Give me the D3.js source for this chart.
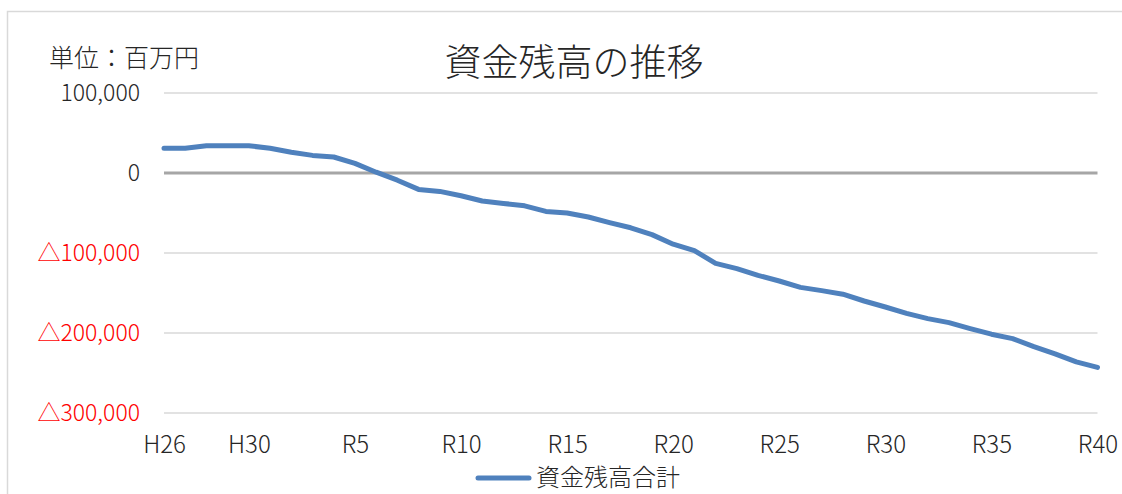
<!DOCTYPE html>
<html lang="ja">
<head>
<meta charset="utf-8">
<script src="https://cdn.jsdelivr.net/npm/d3@7"></script>
<style>
  html, body { margin: 0; padding: 0; background: #fff; }
  svg { display: block; }
  text { font-family: "Noto Sans CJK JP", "Noto Sans", sans-serif; font-weight: 300; }
</style>
</head>
<body>
<svg id="chart" width="1122" height="494"></svg>
<script>
// Fiscal years: Heisei 26–30, then Reiwa 1–40
const years = ["H26", "H27", "H28", "H29", "H30"]
  .concat(d3.range(1, 41).map(n => "R" + n));

// 資金残高合計 (百万円)
const balance = [
  31000, 31000, 34000, 34000, 34000, 31000, 26000, 22000, 20000, 12000,
  1000, -9000, -20500, -23000, -28500, -35000, -38000, -41000, -48000, -50000,
  -55000, -62000, -68500, -77000, -89000, -97000, -113000, -119500, -128000, -135000,
  -143000, -147000, -151500, -160000, -167500, -175500, -182000, -187000, -194500, -201500,
  -207000, -217000, -226000, -236000, -243000
];

const yTicks = [100000, 0, -100000, -200000, -300000];
const xTickLabels = ["H26", "H30", "R5", "R10", "R15", "R20", "R25", "R30", "R35", "R40"];

const titleText = "資金残高の推移";
const unitText = "単位：百万円";
const seriesName = "資金残高合計";

const svg = d3.select("#chart");

const x = d3.scalePoint().domain(years).range([164, 1097.5]);
const y = d3.scaleLinear().domain([-300000, 100000]).range([413, 93]);

const fmt = d3.format(",");
const yLabel = v => v < 0 ? "△" + fmt(-v) : fmt(v);

// Chart area border
svg.append("rect")
  .attr("x", 7.5).attr("y", 11.5)
  .attr("width", 1140).attr("height", 500)
  .attr("fill", "none").attr("stroke", "#d9d9d9").attr("stroke-width", 1.5);

// Horizontal gridlines
svg.append("g").selectAll("line")
  .data(yTicks.filter(v => v !== 0))
  .join("line")
  .attr("x1", x.range()[0]).attr("x2", x.range()[1])
  .attr("y1", d => y(d)).attr("y2", d => y(d))
  .attr("stroke", "#d9d9d9").attr("stroke-width", 1.5);

// Zero baseline
svg.append("line")
  .attr("x1", x.range()[0]).attr("x2", x.range()[1])
  .attr("y1", y(0)).attr("y2", y(0))
  .attr("stroke", "#a6a6a6").attr("stroke-width", 3);

// Y axis labels
const yAxis = d3.axisLeft(y).tickValues(yTicks).tickFormat(yLabel).tickSize(0).tickPadding(0);
const yg = svg.append("g").attr("transform", "translate(140,0)").call(yAxis);
yg.select(".domain").remove();
yg.selectAll("text")
  .attr("font-family", "'Noto Sans CJK JP', sans-serif")
  .attr("font-size", 23)
  .attr("dy", "0.33em")
  .attr("fill", d => d < 0 ? "#ff0000" : "#262626");

// X axis labels
const xAxis = d3.axisBottom(x).tickValues(xTickLabels).tickSize(0).tickPadding(0);
const xg = svg.append("g").attr("transform", "translate(0,453)").call(xAxis);
xg.select(".domain").remove();
xg.selectAll("text")
  .attr("font-family", "'Noto Sans CJK JP', sans-serif")
  .attr("font-size", 24)
  .attr("y", 0)
  .attr("dy", 0)
  .attr("fill", "#262626");

// Series line
const line = d3.line()
  .x((d, i) => x(years[i]))
  .y(d => y(d));

svg.append("path")
  .datum(balance)
  .attr("d", line)
  .attr("fill", "none")
  .attr("stroke", "#4f81bd")
  .attr("stroke-width", 5)
  .attr("stroke-linejoin", "round")
  .attr("stroke-linecap", "round");

// Title
svg.append("text")
  .attr("x", 574).attr("y", 76)
  .attr("text-anchor", "middle")
  .attr("font-size", 37)
  .attr("fill", "#262626")
  .text(titleText);

// Unit note
svg.append("text")
  .attr("x", 49).attr("y", 67)
  .attr("font-size", 25)
  .attr("fill", "#262626")
  .text(unitText);

// Legend
const lg = svg.append("g").attr("transform", "translate(0,478)");
lg.append("line")
  .attr("x1", 478).attr("x2", 529)
  .attr("y1", 0).attr("y2", 0)
  .attr("stroke", "#4f81bd").attr("stroke-width", 5)
  .attr("stroke-linecap", "round");
lg.append("text")
  .attr("x", 536).attr("y", 0)
  .attr("dy", "0.35em")
  .attr("font-size", 24)
  .attr("fill", "#262626")
  .text(seriesName);
</script>
</body>
</html>
